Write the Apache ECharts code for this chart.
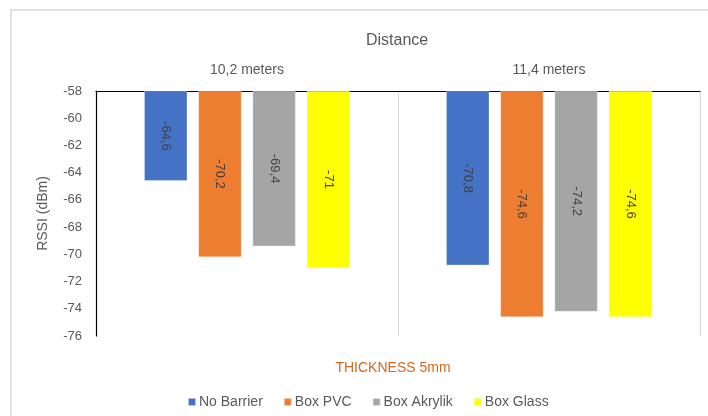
<!DOCTYPE html>
<html>
<head>
<meta charset="utf-8">
<script src="https://cdn.jsdelivr.net/npm/echarts@6/dist/echarts.min.js"></script>
<style>
html,body{margin:0;padding:0;background:#fff;}
#c{width:708px;height:416px;}
</style>
</head>
<body>
<div id="c"></div>
<script>
const categories = ['10,2 meters', '11,4 meters'];
const seriesNames = ['No Barrier', 'Box PVC', 'Box Akrylik', 'Box Glass'];
const noBarrier = [-64.6, -70.8];
const boxPVC = [-70.2, -74.6];
const boxAkrylik = [-69.4, -74.2];
const boxGlass = [-71, -74.6];
const yTicks = { min: -76, max: -58, interval: 2 };
const colors = ['#4472C4', '#ED7D31', '#A5A5A5', '#FFFF00'];

const values = [noBarrier, boxPVC, boxAkrylik, boxGlass];
const font = 'Liberation Sans, Arial, sans-serif';

const chart = echarts.init(document.getElementById('c'), null, { renderer: 'canvas' });
chart.setOption({
  animation: false,
  backgroundColor: '#fff',
  color: colors,
  textStyle: { fontFamily: font },
  title: {
    text: 'Distance',
    left: 361, top: 28,
    textStyle: { fontSize: 16, fontWeight: 'normal', color: '#595959', fontFamily: font }
  },
  legend: {
    data: seriesNames,
    left: 182, top: 390,
    itemWidth: 8, itemHeight: 8, itemGap: 20,
    icon: 'rect',
    textStyle: { fontSize: 14, color: '#595959', padding: [0, 0, 0, -2] }
  },
  grid: { left: 96, right: 8, top: 91, bottom: 80, containLabel: false },
  xAxis: {
    type: 'category',
    position: 'top',
    data: categories,
    axisLine: { show: true, lineStyle: { color: '#000', width: 1.2 } },
    axisTick: { show: false },
    axisLabel: { fontSize: 14, color: '#595959', margin: 14 },
    splitLine: { show: true, lineStyle: { color: '#d9d9d9', width: 1 } }
  },
  yAxis: {
    type: 'value',
    min: yTicks.min, max: yTicks.max, interval: yTicks.interval,
    startValue: yTicks.max,
    name: 'RSSI (dBm)',
    nameLocation: 'middle',
    nameGap: 46,
    nameTextStyle: { fontSize: 14, color: '#595959' },
    axisLine: { show: true, lineStyle: { color: '#000', width: 1.2 } },
    axisTick: { show: false },
    axisLabel: { fontSize: 13, color: '#595959', margin: 14 },
    splitLine: { show: false }
  },
  graphic: [
    { type: 'rect', shape: { x: 11, y: 10, width: 760, height: 460 }, style: { fill: 'none', stroke: '#d9d9d9', lineWidth: 1.5 }, silent: true },
    { type: 'text', x: 393, y: 368, style: { text: 'THICKNESS 5mm', fill: '#D2691E', font: '14px ' + font, textAlign: 'center', textVerticalAlign: 'middle' } }
  ],
  series: seriesNames.map((n, i) => ({
    name: n,
    type: 'bar',
    data: values[i],
    barWidth: 43,
    barGap: '26%',
    clip: true,
    itemStyle: { color: colors[i], borderColor: 'rgba(255,255,255,0.6)', borderWidth: 0.5 },
    label: {
      show: true,
      position: 'inside',
      rotate: -90,
      fontSize: 13,
      color: '#404040',
      formatter: p => String(p.value).replace('.', ',')
    }
  }))
});
</script>
</body>
</html>
